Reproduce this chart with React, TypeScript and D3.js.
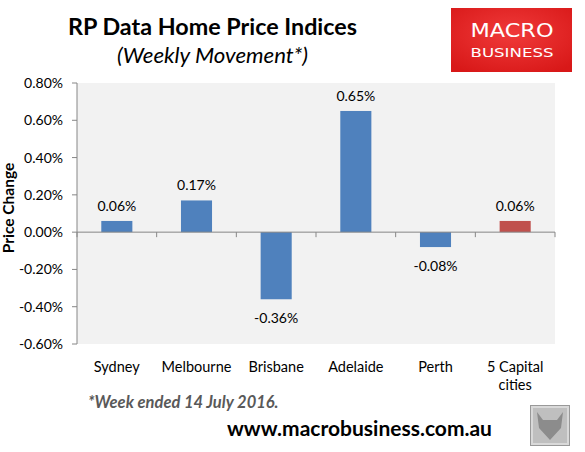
import React from "react";
import * as d3 from "d3";

const categories = ["Sydney", "Melbourne", "Brisbane", "Adelaide", "Perth", "5 Capital cities"];
const values = [0.06, 0.17, -0.36, 0.65, -0.08, 0.06];
const yTicks = [0.8, 0.6, 0.4, 0.2, 0.0, -0.2, -0.4, -0.6];

const W = 585;
const H = 452;
const FONT = "Lato, 'Open Sans', sans-serif";

export default function App() {
  const left = 77, right = 555, top = 83, bottom = 344;
  const x = d3.scaleBand<number>().domain(d3.range(categories.length)).range([left, right]).paddingInner(0).paddingOuter(0);
  const y = d3.scaleLinear().domain([-0.6, 0.8]).range([bottom, top]);
  const bw = x.bandwidth() * 0.39;
  const fmt = (v: number) => v.toFixed(2) + "%";
  const axisColor = "#868686";

  return (
    <svg width={W} height={H} style={{ position: "absolute", left: 0, top: 0, background: "#fff" }} fontFamily={FONT}>
      <rect x={0} y={0} width={W} height={H} fill="#fff" />
      {/* Title */}
      <text x={68} y={35} fontSize={22} fontWeight="bold" fill="#000" textLength={289} lengthAdjust="spacingAndGlyphs">RP Data Home Price Indices</text>
      <text x={117} y={63} fontSize={22} fontStyle="italic" fill="#000" textLength={191} lengthAdjust="spacingAndGlyphs">(Weekly Movement*)</text>

      {/* Logo */}
      <defs>
        <radialGradient id="lg" cx="50%" cy="40%" r="70%">
          <stop offset="0%" stopColor="#f03a3a" />
          <stop offset="100%" stopColor="#d81818" />
        </radialGradient>
      </defs>
      <rect x={451} y={8} width={121} height={64} fill="url(#lg)" />
      <text x={512} y={37} textAnchor="middle" fontSize={20} fill="#fff" fontFamily="'DejaVu Sans', sans-serif" textLength={83} lengthAdjust="spacingAndGlyphs">MACRO</text>
      <text x={512} y={57} textAnchor="middle" fontSize={13} fill="#fff" fontFamily="'DejaVu Sans', sans-serif" textLength={83} lengthAdjust="spacingAndGlyphs">BUSINESS</text>

      {/* plot area */}
      <rect x={left} y={top} width={right - left} height={bottom - top} fill="#f2f2f2" />

      {/* y axis */}
      <line x1={left} x2={left} y1={top} y2={bottom} stroke={axisColor} />
      {yTicks.map((t) => (
        <g key={t}>
          <line x1={left - 5} x2={left} y1={y(t)} y2={y(t)} stroke={axisColor} />
          <text x={63} y={y(t) + 5} textAnchor="end" fontSize={14} fill="#000">{fmt(t)}</text>
        </g>
      ))}
      <text transform={`translate(14,208) rotate(-90)`} textAnchor="middle" fontSize={15.5} fontWeight="bold" fill="#000">Price Change</text>

      {/* bars */}
      {values.map((v, i) => {
        const cx = (x(i) as number) + x.bandwidth() / 2;
        const y0 = y(0), y1 = y(v);
        return (
          <g key={i}>
            <rect x={cx - bw / 2} y={Math.min(y0, y1)} width={bw} height={Math.abs(y1 - y0)} fill={i === values.length - 1 ? "#c0504d" : "#4f81bd"} />
            <text x={cx} y={v >= 0 ? y1 - 10 : y1 + 24} textAnchor="middle" fontSize={14} fill="#000">{fmt(v)}</text>
          </g>
        );
      })}

      {/* zero axis */}
      <line x1={left} x2={right} y1={y(0)} y2={y(0)} stroke={axisColor} />
      {d3.range(categories.length + 1).map((i) => {
        const xx = left + i * x.step();
        return <line key={i} x1={xx} x2={xx} y1={y(0)} y2={y(0) + 5} stroke={axisColor} />;
      })}

      {/* category labels */}
      {categories.map((c, i) => {
        const cx = (x(i) as number) + x.bandwidth() / 2;
        const parts = c === "5 Capital cities" ? ["5 Capital", "cities"] : [c];
        return (
          <text key={c} x={cx} y={372} textAnchor="middle" fontSize={14.5} fill="#000">
            {parts.map((p, j) => (
              <tspan key={j} x={cx} dy={j === 0 ? 0 : 18}>{p}</tspan>
            ))}
          </text>
        );
      })}

      {/* footnote */}
      <text x={88} y={408} fontSize={16.5} fontWeight="bold" fontStyle="italic" fill="#595959">*Week ended 14 July 2016.</text>
      <text x={227} y={436} fontSize={21} fontWeight="bold" fill="#000">www.macrobusiness.com.au</text>

      {/* wolf box */}
      <rect x={530.5} y={405.5} width={39} height={40} fill="#d9d9d9" stroke="#999" />
      <rect x={533} y={408} width={34} height={35} fill="#bfbfbf" />
      <path d="M537,412 L543,420 L557,420 L563,412 L561,428 L550,440 L539,428 Z" fill="#8c8c8c" />
    </svg>
  );
}
